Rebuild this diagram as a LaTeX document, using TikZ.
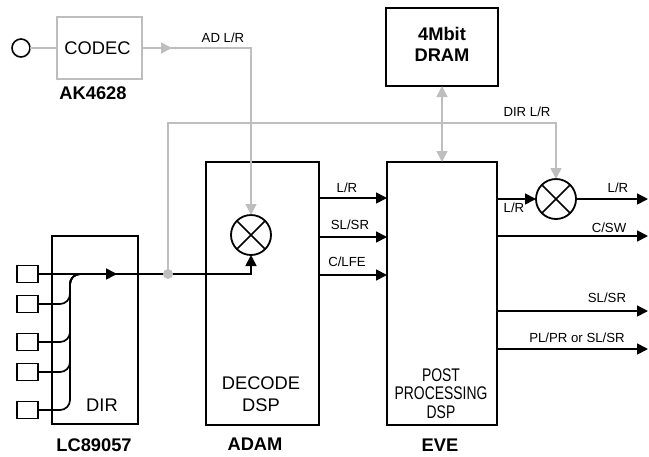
\documentclass[tikz,border=0pt]{standalone}
\usepackage{fontspec}
\setmainfont{Liberation Sans}
\usetikzlibrary{arrows.meta}
\definecolor{lgray}{RGB}{190,190,190}
\begin{document}
\begin{tikzpicture}[x=1pt,y=-1pt,
  >={Triangle[length=11pt,width=11pt]},
  blk/.style={draw,line width=2pt,inner sep=0,outer sep=0},
  gblk/.style={draw=lgray,line width=2.2pt,inner sep=0,outer sep=0},
  sq/.style={draw,line width=1.4pt,minimum width=21pt,minimum height=17pt,inner sep=0,outer sep=0},
  mix/.style={draw,circle,line width=1.8pt,minimum size=40pt,inner sep=0,outer sep=0},
  conn/.style={line width=1.7pt},
  gconn/.style={draw=lgray,line width=1.6pt},
  lbl/.style={font=\fontsize{13.2}{15}\selectfont,anchor=base,inner sep=0},
  big/.style={font=\fontsize{18.3}{21}\selectfont,anchor=base,inner sep=0},
  bld/.style={font=\fontsize{18.3}{21}\selectfont\bfseries,anchor=base,inner sep=0}]
\useasboundingbox (0,0) rectangle (649,456);

% boxes
\node[gblk,minimum width=85pt,minimum height=62pt] (codec) at (99.5,48) {};
\node[draw,circle,line width=1.6pt,minimum size=18pt,inner sep=0,outer sep=0] (inp) at (21,48) {};
\node[blk,minimum width=112pt,minimum height=78pt] (dram) at (442,47) {};
\node[blk,minimum width=113pt,minimum height=263pt] (adam) at (262.5,293.5) {};
\node[blk,minimum width=110pt,minimum height=263pt] (eve) at (442,293.5) {};
\node[blk,minimum width=86pt,minimum height=188pt] (dir) at (95,330) {};
\node[mix] (m1) at (251,235) {};
\node[mix] (m2) at (556,199) {};
\foreach \n/\yy in {1/274,2/304,3/342,4/372,5/410}
  \node[sq] (sq\n) at (27.5,\yy) {};

% texts
\node[big] (tcodec) at (97.5,54.5) {CODEC};
\node[bld] (tak) at (93,99.5) {AK4628};
\node[bld] (tdram1) at (442,40.5) {4Mbit};
\node[bld] (tdram2) at (442,61.5) {DRAM};
\node[big] (tdir) at (102,411.5) {DIR};
\node[bld] (tlc) at (94,451.5) {LC89057};
\node[big] (tdec1) at (261,389.5) {DECODE};
\node[big] (tdec2) at (261,411.5) {DSP};
\node[bld] (tadam) at (255,450.5) {ADAM};
\node[big] (tpp1) at (441,381.5) {\scalebox{0.76}[1]{POST}};
\node[big] (tpp2) at (441,399.5) {\scalebox{0.76}[1]{PROCESSING}};
\node[big] (tpp3) at (441,418.5) {\scalebox{0.76}[1]{DSP}};
\node[bld] (teve) at (440,451.5) {EVE};
\node[lbl] (tad) at (223,42.7) {AD L/R};
\node[lbl] (tdirlr) at (527,116.7) {DIR L/R};
\node[lbl] (ta1) at (347,192.7) {L/R};
\node[lbl] (ta2) at (350,229.7) {SL/SR};
\node[lbl] (ta3) at (347,266.7) {C/LFE};
\node[lbl] (te0) at (514,212.7) {L/R};
\node[lbl] (te1) at (618,192.7) {L/R};
\node[lbl] (te2) at (609,232.7) {C/SW};
\node[lbl] (te3) at (607,302.7) {SL/SR};
\node[lbl] (te4) at (577,342.7) {PL/PR or SL/SR};

% coordinates
\coordinate (adc) at (251,48);
\coordinate (dot) at (168,274);
\coordinate (dirtop) at (168,123);
\coordinate (dirr) at (556,123);
\coordinate (arr1) at (117,274);
\coordinate (arr2) at (172,48);
\coordinate (a1) at (319,198);
\coordinate (a2) at (319,237);
\coordinate (a3) at (319,275);
\coordinate (e1) at (497,199);
\coordinate (e2) at (497,236);
\coordinate (e3) at (497,311);
\coordinate (e4) at (497,349);
\coordinate (o1) at (648,199);

% gray connectors
\draw[gconn] (inp.east) -- (codec.west);
\draw[gconn,->] (codec.east) -- (arr2);
\draw[gconn,->] (codec.east) -- (adc) -- (m1.north);
\draw[gconn,->] (dot) -- (dirtop) -- (dirr) -- (m2.north);
\draw[gconn,<->] (dram.south) -- (eve.north);

% DIR inputs
\foreach \n in {2,3,4,5}
  \draw[conn,rounded corners=10pt] (sq\n.east) -- (sq\n.east -| 70,0) -- (70,274) -- (90,274);
\draw[conn,->] (sq1.east) -- (arr1);
\draw[conn,->] (sq1.east) -- (m1.south |- sq1.east) -- (m1.south);
\fill[lgray] (dot) circle (5pt);

% mixers
\draw[conn] (m1.north west) -- (m1.south east) (m1.north east) -- (m1.south west);
\draw[conn] (m2.north west) -- (m2.south east) (m2.north east) -- (m2.south west);

% ADAM -> EVE
\draw[conn,->] (a1) -- (a1 -| eve.west);
\draw[conn,->] (a2) -- (a2 -| eve.west);
\draw[conn,->] (a3) -- (a3 -| eve.west);

% EVE outputs
\draw[conn,->] (e1) -- (m2.west);
\draw[conn,->] (m2.east) -- (o1);
\draw[conn,->] (e2) -- (e2 -| o1);
\draw[conn,->] (e3) -- (e3 -| o1);
\draw[conn,->] (e4) -- (e4 -| o1);
\end{tikzpicture}
\end{document}
